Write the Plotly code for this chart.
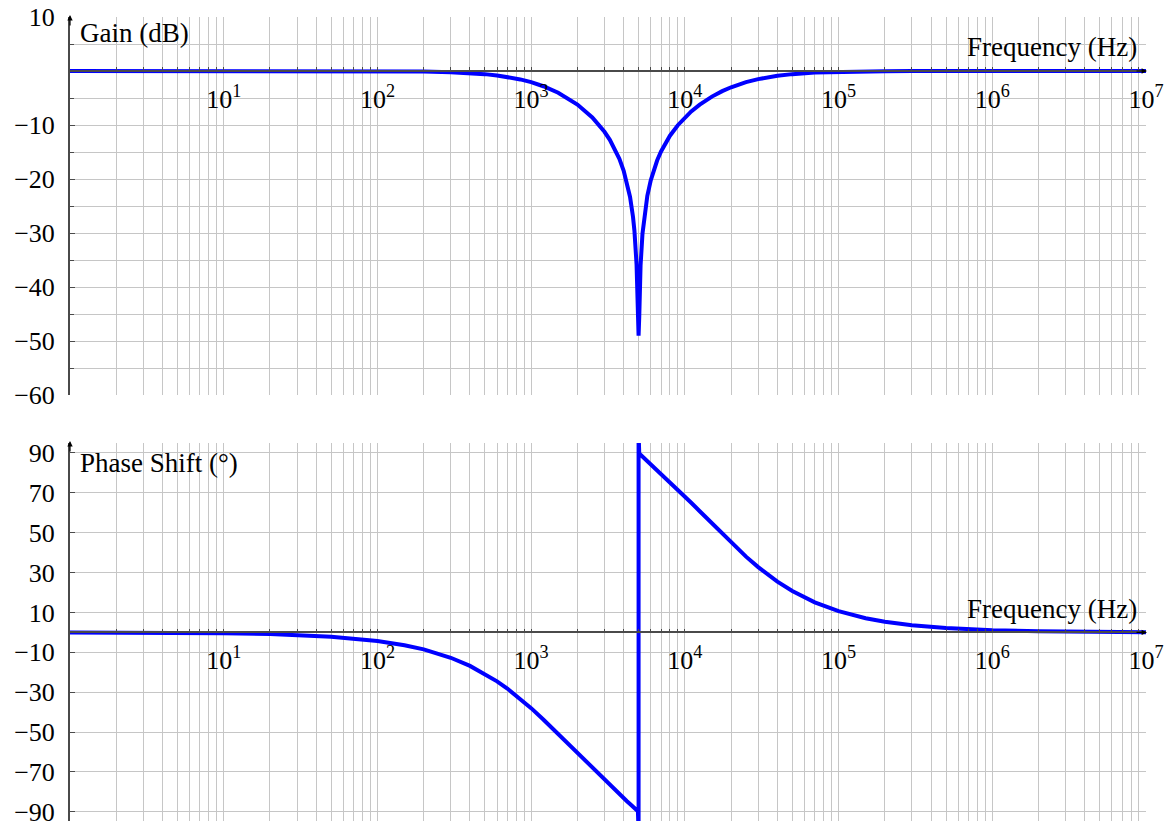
import plotly.graph_objects as go

# Bode plot of a notch filter
freq_hz = [1, 2, 5, 10, 20, 50, 100, 150, 200, 300, 400, 500, 600, 700, 850,
           1000, 1200, 1500, 1750, 2000, 2500, 3000, 3250, 3500, 3750, 4000,
           4200, 4400, 4600, 4700, 4850, 4950, 5000, 5050, 5150, 5300, 5450,
           5700, 6000, 6250, 6600, 7000, 8000, 9000, 10000, 11000, 12500,
           15000, 17500, 20000, 25000, 30000, 40000, 50000, 70000, 100000,
           150000, 200000, 300000, 500000, 1000000, 10000000]
gain_db = [0, 0, 0, 0, 0, -0.004, -0.024, -0.055, -0.097, -0.22, -0.38, -0.58,
           -0.82, -1.10, -1.56, -2.07, -2.82, -4.03, -5.10, -6.22, -8.60,
           -11.26, -12.75, -14.39, -16.27, -18.48, -20.63, -23.32, -27.04,
           -29.63, -35.79, -45.4, -49.0, -45.5, -36.05, -30.15, -26.75, -23.11,
           -20.24, -18.48, -16.58, -14.90, -11.98, -10.04, -8.60, -7.49, -6.22,
           -4.74, -3.73, -3.01, -2.07, -1.50, -0.89, -0.58, -0.30, -0.15,
           -0.067, -0.038, -0.017, -0.006, 0, 0]

phase_freq_hz = [1, 2, 5, 10, 20, 50, 100, 150, 200, 300, 400, 500, 600, 700,
                 850, 1000, 1200, 1500, 1750, 2000, 2500, 3000, 3250, 3500,
                 3750, 4000, 4200, 4400, 4600, 4700, 4850, 4950, 5000, 5000,
                 5050, 5150, 5300, 5450, 5700, 6000, 6250, 6600, 7000, 8000,
                 9000, 10000, 11000, 12500, 15000, 17500, 20000, 25000, 30000,
                 40000, 50000, 70000, 100000, 150000, 200000, 300000, 500000,
                 1000000, 2000000, 5000000, 10000000]
phase_deg = [-0.04, -0.09, -0.21, -0.43, -0.86, -2.15, -4.29, -6.42, -8.54,
             -12.72, -16.80, -20.75, -24.54, -28.17, -33.29, -38.0, -43.68,
             -51.03, -56.23, -60.75, -68.2, -74.12, -76.67, -79.0, -81.16,
             -83.16, -84.66, -86.09, -87.45, -88.11, -89.07, -89.7, -100, 100,
             89.7, 89.10, 88.22, 87.37, 85.99, 84.42, 83.16, 81.47, 79.64,
             75.43, 71.64, 68.2, 65.04, 60.75, 54.58, 49.4, 45.0, 38.0, 32.74,
             25.46, 20.75, 15.07, 10.65, 7.13, 5.36, 3.58, 2.15, 1.07, 0.54,
             0.21, 0.11]

decade_ticks = [10, 100, 1000, 10000, 100000, 1000000, 10000000]
decade_labels = ["10<sup>1</sup>", "10<sup>2</sup>", "10<sup>3</sup>",
                 "10<sup>4</sup>", "10<sup>5</sup>", "10<sup>6</sup>",
                 "10<sup>7</sup>"]
gain_ticks = [10, -10, -20, -30, -40, -50, -60]
phase_ticks = [90, 70, 50, 30, 10, -10, -30, -50, -70, -90]

W, H = 1172, 821
GRID = "#c6c6c6"
AXIS = "#4a4a4a"
FONT = "Liberation Serif"

x_dom = [70 / W, 1146 / W]
top_dom = [1 - 395 / H, 1 - 17 / H]
bot_dom = [0, 1 - 443 / H]
top_range = [-60, 10]
bot_range = [-94.6, 95]


def zero_pos(dom, rng):
    return dom[0] + (0 - rng[0]) / (rng[1] - rng[0]) * (dom[1] - dom[0])


minor_x = [m * 10 ** k for k in range(7) for m in range(2, 10)]


def x_axis(dom_y, rng_y):
    return dict(
        type="log", range=[0, 7], domain=x_dom, automargin=False,
        anchor="free", position=zero_pos(dom_y, rng_y),
        tickmode="array", tickvals=decade_ticks, ticktext=decade_labels,
        showgrid=True, gridcolor=GRID, gridwidth=1,
        showline=True, linecolor=AXIS, linewidth=1.5,
        ticks="inside", ticklen=3, tickcolor=AXIS, ticklabelstandoff=5,
        ticklabeloverflow="allow",
        minor=dict(tickvals=minor_x, showgrid=True, gridcolor=GRID,
                   ticks="inside", ticklen=3, tickcolor=AXIS),
        zeroline=False, tickfont=dict(size=26),
    )


def y_axis(dom, rng, ticks, minor_step, xname):
    ax = dict(
        range=rng, domain=dom, anchor=xname, automargin=False,
        tickmode="array", tickvals=ticks,
        showgrid=True, gridcolor=GRID, gridwidth=1,
        showline=True, linecolor=AXIS, linewidth=2,
        ticks="inside", ticklen=5, tickcolor=AXIS, ticklabelstandoff=8,
        ticklabeloverflow="allow",
        zeroline=False, tickfont=dict(size=26),
    )
    if minor_step:
        ax["minor"] = dict(tick0=0, dtick=minor_step, showgrid=True,
                           gridcolor=GRID, ticks="inside", ticklen=4,
                           tickcolor=AXIS)
    return ax


fig = go.Figure()
fig.add_trace(go.Scatter(x=freq_hz, y=gain_db, mode="lines",
                         line=dict(color="#0000ff", width=4),
                         xaxis="x", yaxis="y", showlegend=False))
fig.add_trace(go.Scatter(x=phase_freq_hz, y=phase_deg, mode="lines",
                         line=dict(color="#0000ff", width=4),
                         xaxis="x2", yaxis="y2", showlegend=False))

annotations = []
for txt, xp, yp, anchor in [
    ("Gain (dB)", 78, 33, "left"),
    ("Frequency (Hz)", 1139, 47, "right"),
    ("Phase Shift (°)", 78, 463, "left"),
    ("Frequency (Hz)", 1139, 609, "right"),
]:
    annotations.append(dict(text=txt, x=xp / W, y=1 - yp / H, xref="paper",
                            yref="paper", xanchor=anchor, yanchor="middle",
                            showarrow=False, font=dict(size=27)))

# arrow heads on the axes
for (xp, yp, ax, ay) in [(70, 15, 0, 12), (70, 441, 0, 12),
                         (1147, 71, -12, 0), (1147, 632.4, -12, 0)]:
    annotations.append(dict(text="", x=xp / W, y=1 - yp / H, xref="paper",
                            yref="paper", ax=ax, ay=ay, showarrow=True,
                            arrowhead=2, arrowsize=0.9, arrowwidth=1.2,
                            arrowcolor="black"))

fig.update_layout(
    width=W, height=H,
    margin=dict(l=0, r=0, t=0, b=0),
    paper_bgcolor="white", plot_bgcolor="white",
    font=dict(family=FONT, size=26, color="black"),
    xaxis=x_axis(top_dom, top_range),
    yaxis=y_axis(top_dom, top_range, gain_ticks, 5, "x"),
    xaxis2=x_axis(bot_dom, bot_range),
    yaxis2=y_axis(bot_dom, bot_range, phase_ticks, None, "x2"),
    annotations=annotations,
)

# the page body has a default 8px margin; drop it so the figure sits at 0,0
fig.write_html("out.html", config={"displayModeBar": False},
               post_script="document.body.style.margin='0';")
